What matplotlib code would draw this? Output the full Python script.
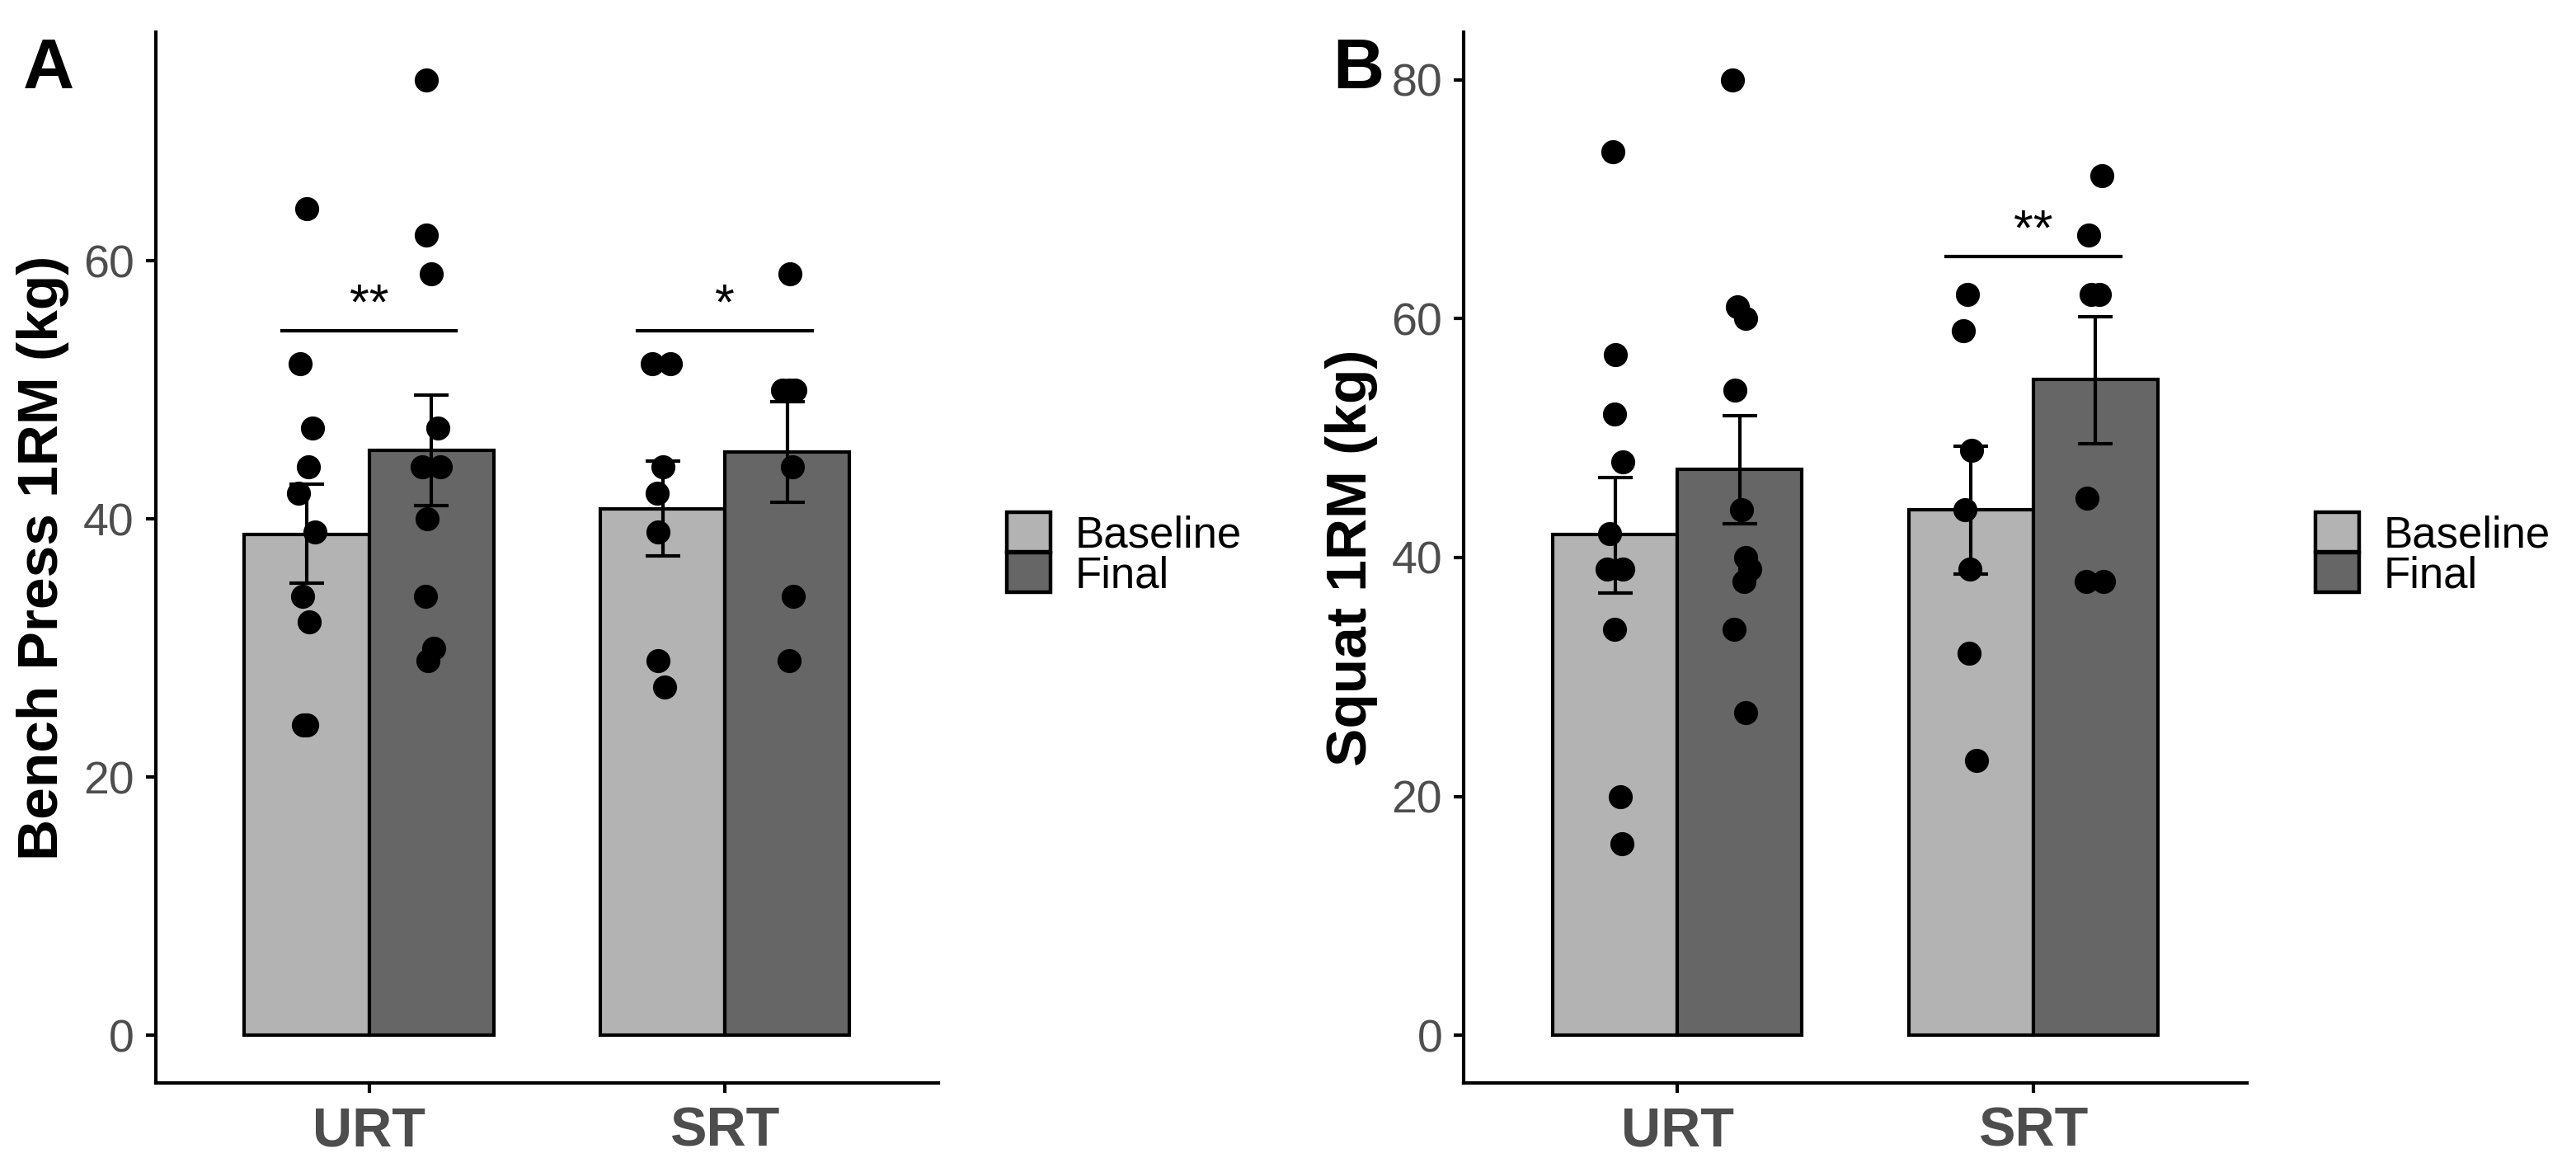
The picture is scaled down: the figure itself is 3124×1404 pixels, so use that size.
import matplotlib
matplotlib.use("Agg")
import matplotlib.pyplot as plt
from matplotlib.patches import Patch

plt.rcParams['font.family'] = ['Liberation Sans', 'DejaVu Sans']

groups = ["URT", "SRT"]
series = ["Baseline", "Final"]
colors = {"Baseline": "#b3b3b3", "Final": "#666666"}

# panel A - bench press (kg)
bench_mean = {"Baseline": [38.8, 40.8], "Final": [45.3, 45.2]}
bench_hi = {"Baseline": [42.7, 44.5], "Final": [49.6, 49.1]}
bench_lo = {"Baseline": [35.0, 37.1], "Final": [41.0, 41.3]}
bench_pts = {
    ("URT", "Baseline"): [64, 52, 47, 44, 42, 39, 34, 32, 24, 24],
    ("URT", "Final"): [74, 62, 59, 47, 44, 44, 40, 34, 30, 29],
    ("SRT", "Baseline"): [52, 52, 44, 42, 39, 29, 27],
    ("SRT", "Final"): [59, 50, 50, 50, 44, 34, 29],
}
bench_jit = {
    ("URT", "Baseline"): [0.0, -0.018, 0.016, 0.005, -0.023, 0.023, -0.012, 0.007, -0.01, 0.0],
    ("URT", "Final"): [-0.014, -0.014, 0.0, 0.018, -0.025, 0.025, -0.012, -0.016, 0.007, -0.009],
    ("SRT", "Baseline"): [-0.028, 0.021, 0.002, -0.016, -0.014, -0.012, 0.005],
    ("SRT", "Final"): [0.007, -0.014, 0.005, 0.021, 0.014, 0.018, 0.005],
}

# panel B - squat (kg)
squat_mean = {"Baseline": [41.9, 44.0], "Final": [47.4, 54.9]}
squat_hi = {"Baseline": [46.7, 49.3], "Final": [51.9, 60.2]}
squat_lo = {"Baseline": [37.0, 38.6], "Final": [42.8, 49.5]}
squat_pts = {
    ("URT", "Baseline"): [74, 57, 52, 48, 42, 39, 39, 34, 20, 16],
    ("URT", "Final"): [80, 61, 60, 54, 44, 40, 39, 38, 34, 27],
    ("SRT", "Baseline"): [62, 59, 49, 44, 39, 32, 23],
    ("SRT", "Final"): [72, 67, 62, 62, 45, 38, 38],
}
squat_jit = {
    ("URT", "Baseline"): [-0.007, 0.0, -0.002, 0.023, -0.014, -0.023, 0.023, -0.002, 0.014, 0.019],
    ("URT", "Final"): [-0.019, -0.007, 0.016, -0.014, 0.005, 0.016, 0.028, 0.012, -0.016, 0.016],
    ("SRT", "Baseline"): [-0.01, -0.022, 0.001, -0.017, -0.003, -0.006, 0.015],
    ("SRT", "Final"): [0.017, -0.02, -0.013, 0.01, -0.024, -0.027, 0.022],
}

# significance brackets: (group index, y, label)
bench_sig = [(0, 54.6, "**"), (1, 54.6, "*")]
squat_sig = [(1, 65.2, "**")]

bar_w = 0.35
lw = 1.5


def panel(ax, means, hi, lo, pts, jit, sig, ylabel, ylim, yticks):
    for k, s in enumerate(series):
        off = (k - 0.5) * bar_w
        xs = [i + 1 + off for i in range(len(groups))]
        ax.bar(xs, means[s], width=bar_w, color=colors[s], edgecolor="black",
               linewidth=lw, zorder=2, label=s)
        yerr = [[m - l for m, l in zip(means[s], lo[s])],
                [h - m for m, h in zip(means[s], hi[s])]]
        ax.errorbar(xs, means[s], yerr=yerr, fmt="none", ecolor="black",
                    elinewidth=lw, capsize=7.7, capthick=lw, zorder=3)
        for i, g in enumerate(groups):
            vals = pts[(g, s)]
            px = [xs[i] + j for j in jit[(g, s)]]
            ax.plot(px, vals, "o", color="black", markersize=10.5, zorder=4,
                    markeredgewidth=0)
    for gi, y, lab in sig:
        c = gi + 1
        ax.plot([c - 0.245, c + 0.245], [y, y], color="black", lw=lw, zorder=5)
        ax.text(c, y + 0.1, lab, ha="center", va="bottom", fontsize=22)

    ax.set_xlim(0.4, 2.6)
    ax.set_ylim(*ylim)
    ax.set_yticks(yticks)
    ax.set_xticks([1, 2])
    ax.set_xticklabels(groups, fontsize=24, fontweight="bold", color="#4d4d4d")
    ax.tick_params(axis="y", labelsize=20, labelcolor="#4d4d4d", length=4.3,
                   width=lw, pad=5)
    ax.tick_params(axis="x", length=4.3, width=lw, pad=6)
    for sp in ["top", "right"]:
        ax.spines[sp].set_visible(False)
    for sp in ["left", "bottom"]:
        ax.spines[sp].set_linewidth(lw)
    ax.set_ylabel(ylabel, fontsize=25, fontweight="bold")
    ax.yaxis.set_label_coords(-0.11, 0.5)

    handles = [Patch(facecolor=colors[s], edgecolor="black", linewidth=1.6) for s in series]
    ax.legend(handles, series, loc="center left", bbox_to_anchor=(1.087, 0.503),
              frameon=False, fontsize=19, handlelength=1.02, handleheight=1.02,
              handletextpad=0.55, labelspacing=-0.08, borderpad=0, borderaxespad=0)


fig = plt.figure(figsize=(15.62, 7.02), dpi=200)
axA = fig.add_axes([188.6 / 3124, 91 / 1404, 949.4 / 3124, 1274 / 1404])
axB = fig.add_axes([1775 / 3124, 91 / 1404, 950 / 3124, 1274 / 1404])

panel(axA, bench_mean, bench_hi, bench_lo, bench_pts, bench_jit, bench_sig,
      "Bench Press 1RM (kg)", (-3.7, 77.7), [0, 20, 40, 60])
panel(axB, squat_mean, squat_hi, squat_lo, squat_pts, squat_jit, squat_sig,
      "Squat 1RM (kg)", (-4, 84), [0, 20, 40, 60, 80])

fig.text(28 / 3124, 1 - 107 / 1404, "A", fontsize=31, fontweight="bold", va="baseline")
fig.text(1616 / 3124, 1 - 107 / 1404, "B", fontsize=31, fontweight="bold", va="baseline")

fig.savefig("out.png", dpi=200)
